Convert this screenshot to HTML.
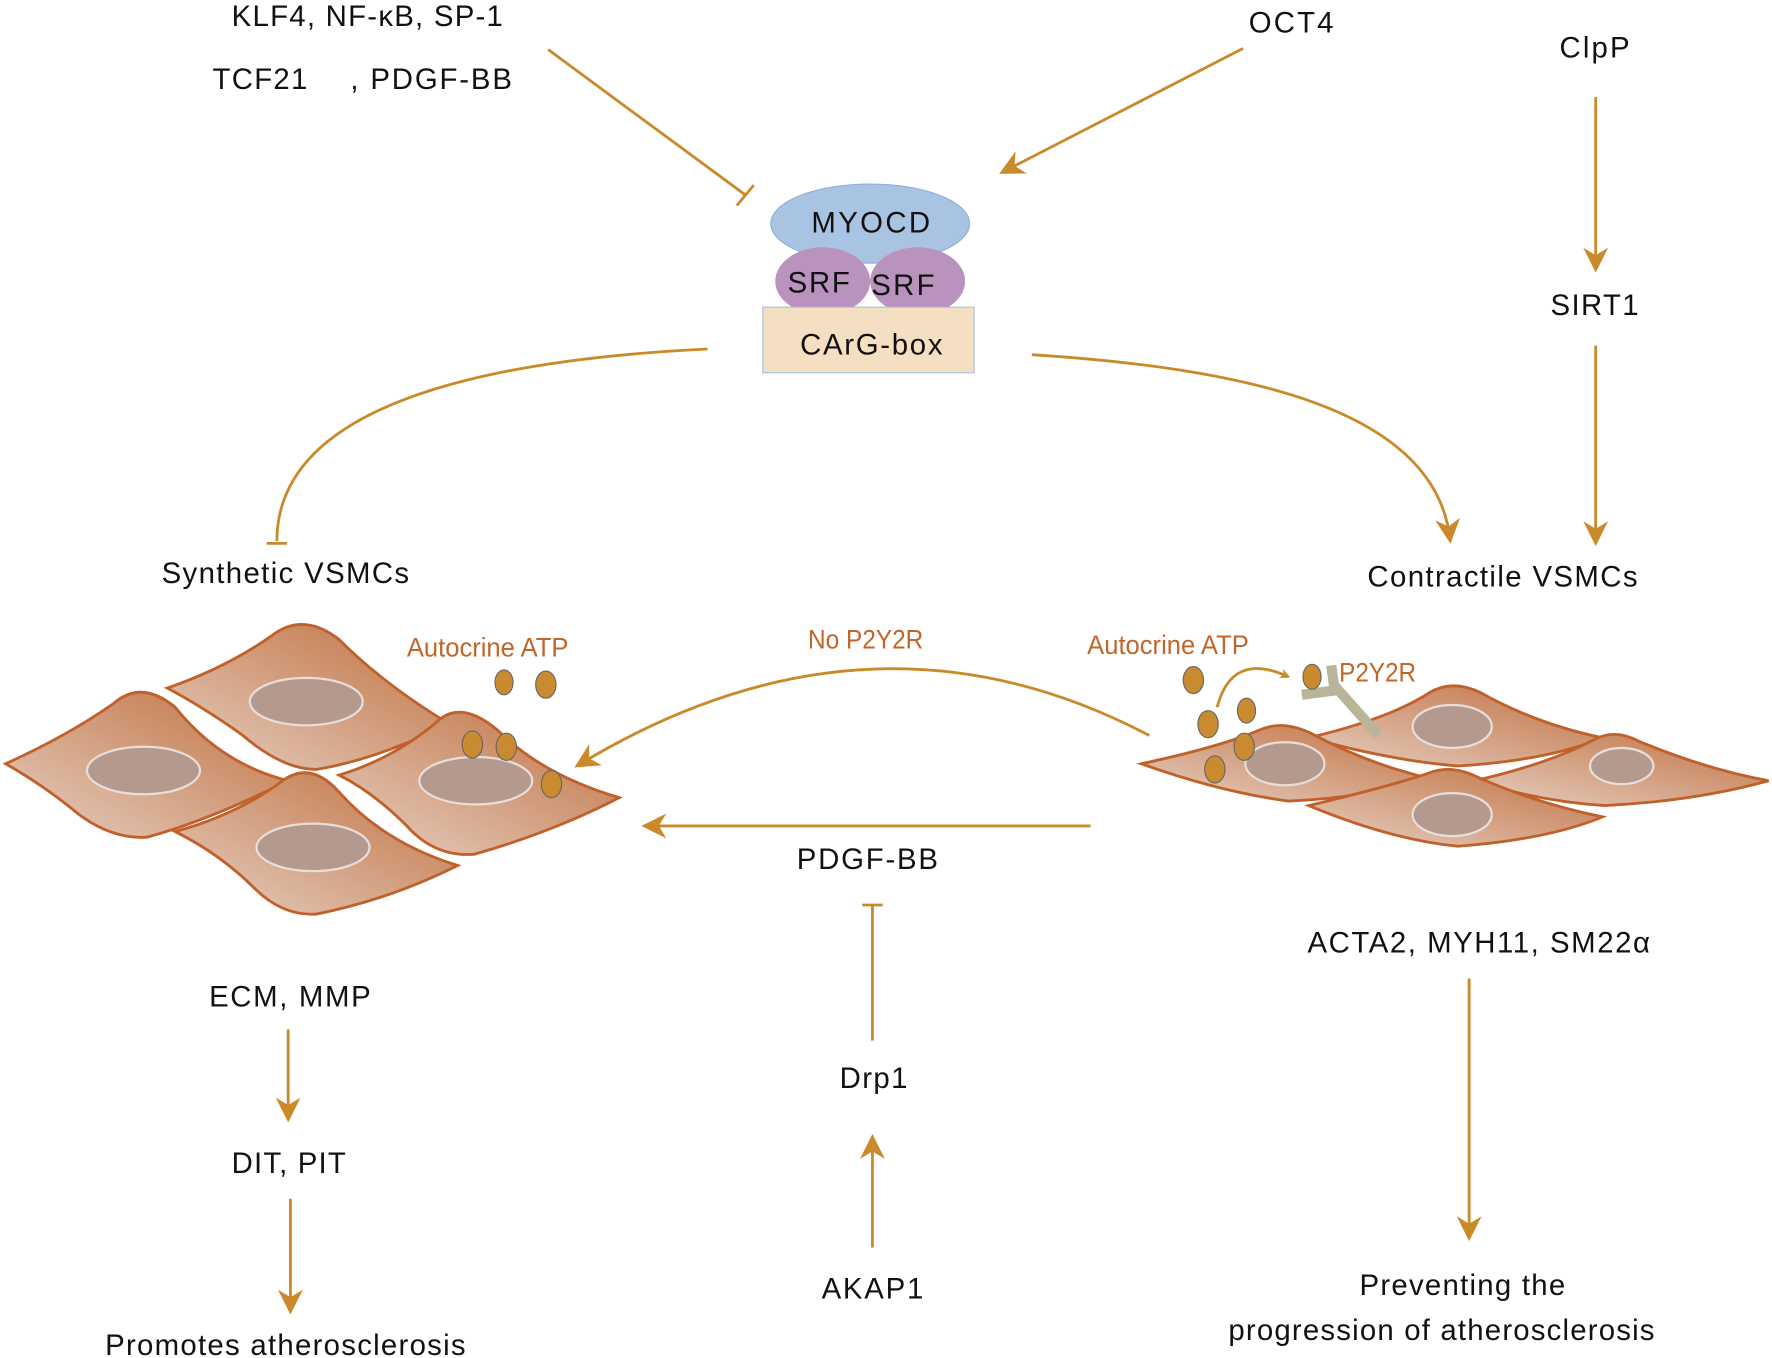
<!DOCTYPE html>
<html><head><meta charset="utf-8"><style>html,body{margin:0;padding:0;background:#fff}svg{display:block}text{font-family:"Liberation Sans",sans-serif}</style></head><body>
<svg width="1772" height="1358" viewBox="0 0 1568 1200" xmlns="http://www.w3.org/2000/svg">
<defs>
<marker id="ah" viewBox="0 0 10 10" refX="8" refY="5" markerWidth="9" markerHeight="9" markerUnits="userSpaceOnUse" orient="auto"><path d="M0,0 L10,5 L0,10 L3,5 z" fill="#c98a2a"/></marker>
<marker id="ah2" viewBox="0 0 10 10" refX="8" refY="5" markerWidth="22" markerHeight="22" markerUnits="userSpaceOnUse" orient="auto"><path d="M0,0 L10,5 L0,10 L3,5 z" fill="#c98a2a"/></marker>
<linearGradient id="cg" x1="0" y1="1" x2="1" y2="0"><stop offset="0" stop-color="#e6cfc2"/><stop offset="1" stop-color="#c0703f"/></linearGradient>
</defs>
<g fill="none" stroke="#c98a2a" stroke-width="2.5">
<line x1="485" y1="43" x2="660" y2="172"/><line x1="652" y1="181" x2="667" y2="163"/>
<line x1="1100" y1="42" x2="888" y2="151" marker-end="url(#ah2)"/>
<line x1="1412" y1="85" x2="1412" y2="236" marker-end="url(#ah2)"/>
<line x1="1412" y1="305" x2="1412" y2="478" marker-end="url(#ah2)"/>
<path d="M626,308 C420,318 245,360 245,478"/><line x1="236" y1="480" x2="254" y2="480"/>
<path d="M913,313 C1100,325 1270,360 1283,476" marker-end="url(#ah2)"/>
<path d="M1017,650 Q770,520 512,676" marker-end="url(#ah2)"/>
<line x1="965" y1="730" x2="572" y2="730" marker-end="url(#ah2)"/>
<line x1="772" y1="920" x2="772" y2="800"/><line x1="763" y1="800" x2="781" y2="800"/>
<line x1="772" y1="1103" x2="772" y2="1007" marker-end="url(#ah2)"/>
<line x1="255" y1="910" x2="255" y2="988" marker-end="url(#ah2)"/>
<line x1="257" y1="1060" x2="257" y2="1158" marker-end="url(#ah2)"/>
<line x1="1300" y1="865" x2="1300" y2="1093" marker-end="url(#ah2)"/>
<path d="M1077,625 Q1090,575 1140,598" marker-end="url(#ah)"/>
</g>
<ellipse cx="770" cy="197" rx="88" ry="35" fill="#a9c4e2" stroke="#8fb0d8"/>
<ellipse cx="728" cy="248" rx="42" ry="30" fill="#b993bd"/>
<ellipse cx="812" cy="248" rx="42" ry="30" fill="#b993bd"/>
<rect x="675" y="271" width="187" height="58" fill="#f5dfc3" stroke="#a8c0d8"/>
<g font-size="26" fill="#111" lengthAdjust="spacingAndGlyphs">
<text x="718" y="205" textLength="105">MYOCD</text><text x="697" y="258" textLength="55">SRF</text><text x="771" y="260" textLength="56">SRF</text><text x="708" y="313" textLength="126">CArG-box</text>
<text x="205" y="22" textLength="240">KLF4, NF-κB, SP-1</text><text x="188" y="78" textLength="84">TCF21</text><text x="310" y="78" textLength="143">, PDGF-BB</text>
<text x="1105" y="28" textLength="75">OCT4</text><text x="1380" y="50" textLength="62">ClpP</text><text x="1372" y="278" textLength="78">SIRT1</text>
<text x="143" y="515" textLength="219">Synthetic VSMCs</text><text x="1210" y="518" textLength="239">Contractile VSMCs</text>
<text x="705" y="768" textLength="125">PDGF-BB</text><text x="743" y="962" textLength="60">Drp1</text><text x="727" y="1148" textLength="90">AKAP1</text>
<text x="185" y="890" textLength="143">ECM, MMP</text><text x="205" y="1037" textLength="101">DIT, PIT</text><text x="93" y="1198" textLength="319">Promotes atherosclerosis</text>
<text x="1157" y="842" textLength="303">ACTA2, MYH11, SM22α</text><text x="1203" y="1145" textLength="182">Preventing the</text><text x="1087" y="1185" textLength="377">progression of atherosclerosis</text>
</g>
<g fill="url(#cg)" stroke="#c0602a" stroke-width="2.5">
<path d="M148,608 Q200,590 240,562 Q268,540 300,565 Q340,605 398,640 Q330,672 280,680 Q250,680 215,650 Q180,625 148,608 Z"/>
<path d="M5,675 Q60,650 100,622 Q125,600 155,625 Q195,675 255,690 Q185,725 130,740 Q100,742 70,720 Q40,695 5,675 Z"/>
<path d="M300,685 Q350,670 390,635 Q410,620 440,645 Q480,685 548,705 Q490,735 420,755 Q385,758 360,730 Q330,700 300,685 Z"/>
<path d="M155,735 Q210,720 250,690 Q275,672 300,700 Q340,745 405,765 Q345,795 280,808 Q250,810 225,785 Q195,755 155,735 Z"/>
<path d="M1158,652 Q1230,635 1265,612 Q1285,600 1310,612 Q1360,640 1418,652 Q1370,672 1290,677 Q1230,672 1158,652 Z"/>
<path d="M1305,690 Q1370,675 1408,655 Q1428,643 1450,655 Q1510,680 1565,690 Q1500,708 1420,712 Q1360,708 1305,690 Z"/>
<path d="M1010,675 Q1080,660 1115,645 Q1135,636 1160,648 Q1210,675 1265,688 Q1210,705 1140,708 Q1080,700 1010,675 Z"/>
<path d="M1158,712 Q1230,695 1265,683 Q1285,675 1310,688 Q1360,710 1418,722 Q1370,742 1290,748 Q1230,742 1158,712 Z"/>
</g>
<g fill="#b49a8e" stroke="#e8ddd8" stroke-width="2">
<ellipse cx="271" cy="620" rx="50" ry="21"/><ellipse cx="127" cy="681" rx="50" ry="21"/><ellipse cx="421" cy="690" rx="50" ry="21"/><ellipse cx="277" cy="749" rx="50" ry="21"/>
<ellipse cx="1285" cy="642" rx="35" ry="19"/><ellipse cx="1435" cy="677" rx="28" ry="16"/><ellipse cx="1137" cy="675" rx="35" ry="19"/><ellipse cx="1285" cy="720" rx="35" ry="19"/>
</g>
<g stroke="#b8b59a" stroke-width="9" fill="none" stroke-linecap="butt"><line x1="1180" y1="605" x2="1220" y2="650"/><line x1="1152" y1="614" x2="1182" y2="610"/><line x1="1178" y1="588" x2="1181" y2="610"/></g>
<g fill="#c98a30" stroke="#666" stroke-width="1">
<ellipse cx="446" cy="603" rx="8" ry="11"/><ellipse cx="483" cy="605" rx="9" ry="12"/><ellipse cx="418" cy="658" rx="9" ry="12"/><ellipse cx="448" cy="660" rx="9" ry="12"/><ellipse cx="488" cy="693" rx="9" ry="12"/>
<ellipse cx="1056" cy="601" rx="9" ry="12"/><ellipse cx="1069" cy="640" rx="9" ry="12"/><ellipse cx="1103" cy="628" rx="8" ry="11"/><ellipse cx="1101" cy="660" rx="9" ry="12"/><ellipse cx="1075" cy="680" rx="9" ry="12"/><ellipse cx="1161" cy="598" rx="8" ry="11"/>
</g>
<g font-size="24" fill="#c0662a">
<text x="360" y="580" textLength="143" lengthAdjust="spacingAndGlyphs">Autocrine ATP</text>
<text x="962" y="578" textLength="143" lengthAdjust="spacingAndGlyphs">Autocrine ATP</text>
<text x="715" y="573" textLength="102" lengthAdjust="spacingAndGlyphs">No P2Y2R</text>
<text x="1185" y="602" textLength="68" lengthAdjust="spacingAndGlyphs">P2Y2R</text>
</g>
</svg>
</body></html>
